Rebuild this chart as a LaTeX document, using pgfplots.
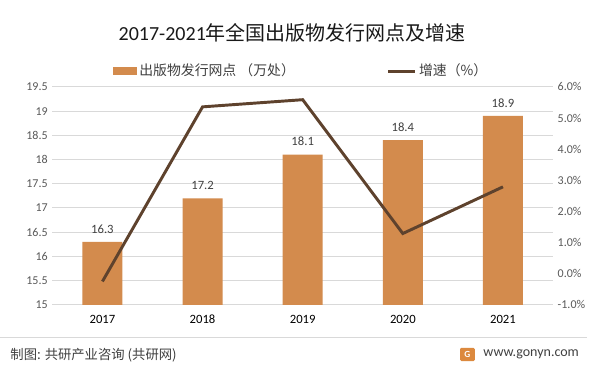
\documentclass[border=0pt]{standalone}
\usepackage{fontspec}
\setmainfont{Carlito}
\newfontfamily\cjk{Noto Sans CJK SC}
\usepackage{pgfplots}
\pgfplotsset{compat=1.18}
\definecolor{barc}{RGB}{211,139,77}
\definecolor{linec}{RGB}{94,66,45}
\definecolor{gridc}{RGB}{217,217,217}
\definecolor{tickc}{RGB}{89,89,89}
\definecolor{labc}{RGB}{64,64,64}
\begin{document}
\begin{tikzpicture}
\fill[white] (0,0) rectangle (450pt,-279.75pt);
% title
\node[font=\fontsize{15}{17}\selectfont, text=black!90] at (219pt,-24.75pt) {2017-2021{\cjk 年全国出版物发行网点及增速}};
\begin{axis}[
  at={(39pt,-228.75pt)}, anchor=south west,
  scale only axis, width=375.75pt, height=163.5pt,
  xmin=-0.5, xmax=4.5, ymin=15, ymax=19.5,
  ytick={15,15.5,16,16.5,17,17.5,18,18.5,19,19.5},
  yticklabels={15,15.5,16,16.5,17,17.5,18,18.5,19,19.5},
  xtick={0,1,2,3,4}, xticklabels={2017,2018,2019,2020,2021},
  /pgf/number format/assume math mode=true,
  axis line style={draw=none}, tick style={draw=none},
  ymajorgrids, grid style={gridc, line width=0.75pt},
  yticklabel style={font=\fontsize{9}{10}\selectfont, text=tickc},
  xticklabel style={font=\fontsize{9.5}{10}\selectfont, text=black},
  ybar, bar width=30pt,
  clip=false,
  legend columns=2,
  legend style={at={(axis description cs:0.112,1.073)}, anchor=west, draw=none, fill=none,
    font=\fontsize{10.4}{12}\selectfont, text=labc,
    /tikz/every even column/.append style={column sep=67pt}},
  legend image code/.code={\fill[barc] (0pt,-2.7pt) rectangle (18pt,2.7pt);},
]
\addplot[fill=barc, draw=none, nodes near coords,
  nodes near coords style={font=\fontsize{9.5}{10}\selectfont, text=labc, yshift=3pt}]
  coordinates {(0,16.3) (1,17.2) (2,18.1) (3,18.4) (4,18.9)};
\addlegendentry{\cjk 出版物发行网点 （万处）}
\addlegendimage{legend image code/.code={\draw[linec, line width=2.2pt] (0pt,0pt) -- (20pt,0pt);}}
\addlegendentry{\cjk 增速（\%）}
\end{axis}
\begin{axis}[
  at={(39pt,-228.75pt)}, anchor=south west,
  scale only axis, width=375.75pt, height=163.5pt,
  xmin=-0.5, xmax=4.5, ymin=-1, ymax=6,
  ytick={-1,0,1,2,3,4,5,6},
  yticklabel={\pgfmathprintnumber[fixed,fixed zerofill,precision=1]{\tick}\%},
  /pgf/number format/assume math mode=true,
  axis y line*=right, hide x axis,
  axis line style={draw=none}, tick style={draw=none},
  yticklabel style={font=\fontsize{9}{10}\selectfont, text=tickc},
]
\addplot[linec, line width=2.2pt, mark=none] coordinates {(0,-0.25) (1,5.36) (2,5.59) (3,1.29) (4,2.79)};
\end{axis}
% footer
\draw[gridc, line width=0.6pt] (0pt,-253.5pt) -- (440pt,-253.5pt);
\node[anchor=west, font=\fontsize{10}{11}\selectfont, text=labc] at (4pt,-266.25pt) {\cjk 制图: 共研产业咨询 (共研网)};
\fill[rounded corners=1pt, barc!80!orange] (345pt,-271pt) rectangle (356pt,-261pt);
\node[font=\bfseries\fontsize{7}{8}\selectfont, text=white] at (350.5pt,-266pt) {G};
\node[anchor=west, font=\fontsize{10.5}{11}\selectfont, text=labc] at (359pt,-266.25pt) {www.gonyn.com};
\end{tikzpicture}
\end{document}
